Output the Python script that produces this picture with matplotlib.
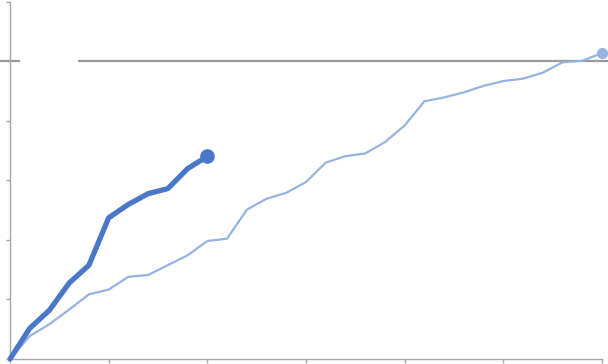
import numpy as np
import matplotlib
matplotlib.use("Agg")
import matplotlib.pyplot as plt

# values (y: 0-120 scale, target line at 100)
current = [0, 10.3, 16.4, 25.5, 31.5, 47.4, 51.9, 55.5, 57.2, 63.9, 68.0]
previous = [0, 7.7, 11.7, 16.6, 21.7, 23.3, 27.6, 28.2, 31.5, 34.8,
            39.6, 40.4, 50.1, 53.8, 55.8, 59.4, 65.9, 68.1, 69.0, 72.8,
            78.4, 86.5, 87.8, 89.5, 91.7, 93.3, 94.1, 96.1, 99.6, 100.1, 102.7]
target = 100
x_ticks = [0, 5, 10, 15, 20, 25, 30]
y_ticks = [0, 20, 40, 60, 80, 100, 120]

W, H = 608, 364
fig = plt.figure(figsize=(W / 100, H / 100), dpi=100)
ax = fig.add_axes([10 / W, 5 / H, 592 / W, 357.5 / H])

axis_col = "#a6a6a6"

# target line, runs past the axes with a gap near the left
for a, b in [(0, 19), (79, 608)]:
    ax.axhline(target, xmin=(a - 10) / 592, xmax=(b - 10) / 592,
               color="#999999", lw=1.6, clip_on=False, zorder=1)

x_prev = np.arange(len(previous))
x_cur = np.arange(len(current))
ax.plot(x_prev, previous, color="#97b3e0", lw=1.6, zorder=2, clip_on=False)
ax.plot(x_prev[-1], previous[-1], "o", color="#97b3e0", ms=7, zorder=2, clip_on=False)
ax.plot(x_cur, current, color="#4a78c8", lw=3.8, zorder=3, clip_on=False,
        solid_capstyle="round")
ax.plot(x_cur[-1], current[-1], "o", color="#4a78c8", ms=9.5, zorder=3, clip_on=False)

ax.set_xlim(0, 30)
ax.set_ylim(0, 120)
ax.set_xticks(x_ticks)
ax.set_yticks(y_ticks)
ax.set_xticklabels([])
ax.set_yticklabels([])
ax.tick_params(length=3, width=1, color=axis_col)
for s in ["top", "right"]:
    ax.spines[s].set_visible(False)
for s in ["left", "bottom"]:
    ax.spines[s].set_color(axis_col)
    ax.spines[s].set_linewidth(1)

fig.savefig("out.png", dpi=100)
